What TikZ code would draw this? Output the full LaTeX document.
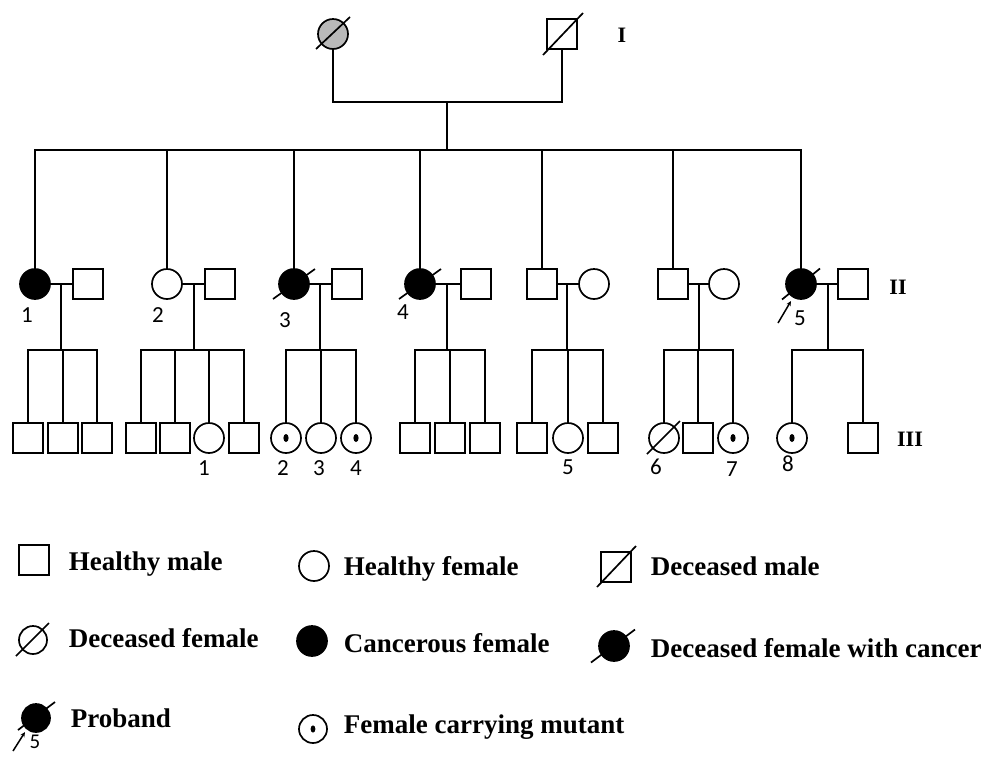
\documentclass[tikz,border=0pt]{standalone}
\usepackage{fontspec}
\setmainfont{Liberation Serif}
\newfontfamily\numfont{Carlito}
\usetikzlibrary{arrows.meta}
\begin{document}
\begin{tikzpicture}[x=1pt,y=-1pt, line width=1.7pt,
 male/.style={draw, rectangle, minimum size=29.5pt, inner sep=0pt, fill=white},
 female/.style={draw, circle, minimum size=30pt, inner sep=0pt, fill=white},
 affected/.style={female, fill=black},
 num/.style={font=\numfont\fontsize{23}{25}\selectfont, inner sep=0pt},
 gen/.style={font=\bfseries\fontsize{22}{24}\selectfont, inner sep=0pt},
 legtxt/.style={font=\bfseries\fontsize{27}{30}\selectfont, anchor=base west, inner sep=0pt},
 probarrow/.style={-{Stealth[length=5pt,width=4.5pt]}, line width=1.5pt},
 carrierdot/.style={fill=black},
]
\useasboundingbox (0,0) rectangle (987,756);

% ---------- Generation I ----------
\node[female, fill=gray!55] (gf) at (333,34) {};
\node[male] (gm) at (562,34) {};
\node[gen] (genI) at (622,35) {I};
\draw ([shift={(-17,15)}]gf.center) -- ([shift={(17,-17)}]gf.center);
\draw ([shift={(-19,21)}]gm.center) -- ([shift={(21,-21)}]gm.center);
\coordinate (gc) at (447,102);
\coordinate (gs) at (447,150);
\draw (gf.south) |- (gc) -| (gm.south);
\draw (gc) -- (gs);

% ---------- Generation II ----------
\node[affected] (p1) at (35,284) {};
\node[male] (q1) at (88,284) {};
\node[female] (p2) at (167,284) {};
\node[male] (q2) at (220,284) {};
\node[affected] (p3) at (294,284) {};
\node[male] (q3) at (347,284) {};
\node[affected] (p4) at (420,284) {};
\node[male] (q4) at (476,284) {};
\node[male] (p5) at (542,284) {};
\node[female] (q5) at (594,284) {};
\node[male] (p6) at (673,284) {};
\node[female] (q6) at (724,284) {};
\node[affected] (p7) at (801,284) {};
\node[male] (q7) at (853,284) {};
\node[gen] (genII) at (898,287) {II};

\draw ([shift={(-21,15)}]p3.center) -- ([shift={(21,-15)}]p3.center);
\draw ([shift={(-21,15)}]p4.center) -- ([shift={(21,-15)}]p4.center);
\draw ([shift={(-19,15.5)}]p7.center) -- ([shift={(19,-15.5)}]p7.center);

\node[num] (n21) at (27,315) {1};
\node[num] (n22) at (158,315) {2};
\node[num] (n23) at (285,320) {3};
\node[num] (n24) at (403,312) {4};
\node[num] (n25) at (800,318) {5};
\coordinate (pa0) at (778,323);
\coordinate (pa1) at (791,301);
\draw[probarrow] (pa0) -- (pa1);

% sibship line of generation II
\draw (p1.north) |- (gs) -| (p7.north);
\foreach \p in {p2,p3,p4,p5,p6} \draw (\p.north) -- (\p.north |- gs);

% marriages
\foreach \a/\b in {p1/q1,p2/q2,p3/q3,p4/q4,p5/q5,p6/q6,p7/q7} \draw (\a.east) -- (\b.west);

% descent lines
\foreach \i/\x in {1/61,2/194,3/320,4/447,5/567,6/699,7/828}{
  \coordinate (k\i) at (\x,284);
  \coordinate (s\i) at (\x,350);
  \draw (k\i) -- (s\i);
}

% ---------- Generation III ----------
% family 1
\node[male] (a1) at (28,438) {};
\node[male] (a2) at (63,438) {};
\node[male] (a3) at (97,438) {};
\draw (a1.north) |- (s1) -| (a3.north);
\draw (a2.north) -- (a2.north |- s1);
% family 2
\node[male] (b1) at (141,438) {};
\node[male] (b2) at (175,438) {};
\node[female] (b3) at (209,438) {};
\node[male] (b4) at (244,438) {};
\draw (b1.north) |- (s2) -| (b4.north);
\draw (b2.north) -- (b2.north |- s2);
\draw (b3.north) -- (b3.north |- s2);
\node[num] (n31) at (204,468) {1};
% family 3
\node[female] (c1) at (286,438) {};
\node[female] (c2) at (321,438) {};
\node[female] (c3) at (356,438) {};
\draw (c1.north) |- (s3) -| (c3.north);
\draw (c2.north) -- (c2.north |- s3);
\fill[carrierdot] (c1.center) ellipse [x radius=2.6, y radius=4];
\fill[carrierdot] (c3.center) ellipse [x radius=2.6, y radius=4];
\node[num] (n32) at (283,468) {2};
\node[num] (n33) at (319,468) {3};
\node[num] (n34) at (356,468) {4};
% family 4
\node[male] (d1) at (415,438) {};
\node[male] (d2) at (450,438) {};
\node[male] (d3) at (485,438) {};
\draw (d1.north) |- (s4) -| (d3.north);
\draw (d2.north) -- (d2.north |- s4);
% family 5
\node[male] (e1) at (532,438) {};
\node[female] (e2) at (568,438) {};
\node[male] (e3) at (603,438) {};
\draw (e1.north) |- (s5) -| (e3.north);
\draw (e2.north) -- (e2.north |- s5);
\node[num] (n35) at (568,467) {5};
% family 6
\node[female] (g1) at (664,438) {};
\node[male] (g2) at (698,438) {};
\node[female] (g3) at (733,438) {};
\draw (g1.north) |- (s6) -| (g3.north);
\draw (g2.north) -- (g2.north |- s6);
\draw ([shift={(-17,16)}]g1.center) -- ([shift={(16,-17)}]g1.center);
\fill[carrierdot] (g3.center) ellipse [x radius=2.6, y radius=4];
\node[num] (n36) at (656,467) {6};
\node[num] (n37) at (732,469) {7};
% family 7
\node[female] (h1) at (792,438) {};
\node[male] (h2) at (863,438) {};
\draw (h1.north) |- (s7) -| (h2.north);
\fill[carrierdot] (h1.center) ellipse [x radius=2.6, y radius=4];
\node[num] (n38) at (788,464) {8};
\node[gen] (genIII) at (910,439) {III};

% ---------- Legend ----------
\node[male] (l1) at (34,560) {};
\node[legtxt] (t1) at (68,570) {Healthy male};
\node[female] (l2) at (314,566) {};
\node[legtxt] (t2) at (343,575) {Healthy female};
\node[male] (l3) at (616,567) {};
\draw ([shift={(-19,20)}]l3.center) -- ([shift={(20,-21)}]l3.center);
\node[legtxt] (t3) at (650,575) {Deceased male};

\node[female, minimum size=28pt] (l4) at (33,640) {};
\draw ([shift={(-17,16)}]l4.center) -- ([shift={(16,-17)}]l4.center);
\node[legtxt] (t4) at (68,647) {Deceased female};
\node[affected] (l5) at (312,641) {};
\node[legtxt] (t5) at (343,652) {Cancerous female};
\node[affected] (l6) at (614,646) {};
\draw ([shift={(-23,16.5)}]l6.center) -- ([shift={(21,-16.5)}]l6.center);
\node[legtxt] (t6) at (650,657) {Deceased female with cancer};

\node[affected, minimum size=28pt] (l7) at (36,718) {};
\draw ([shift={(-18,12)}]l7.center) -- ([shift={(19,-16)}]l7.center);
\coordinate (la0) at (13,751);
\coordinate (la1) at (25,732);
\draw[probarrow] (la0) -- (la1);
\node[num, font=\numfont\fontsize{21}{23}\selectfont] (n5l) at (35,742) {5};
\node[legtxt] (t7) at (70,727) {Proband};
\node[female, minimum size=28pt] (l8) at (313,729) {};
\fill[carrierdot] (l8.center) ellipse [x radius=2.4, y radius=3.6];
\node[legtxt] (t8) at (343,733) {Female carrying mutant};
\end{tikzpicture}
\end{document}
